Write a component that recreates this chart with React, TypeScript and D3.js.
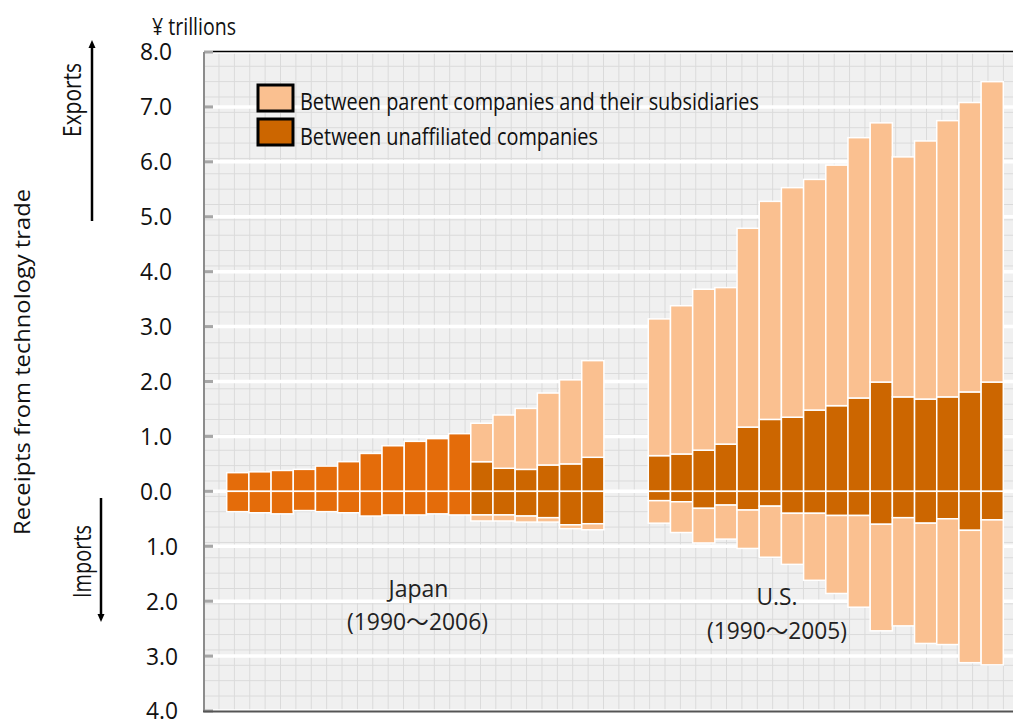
import React from "react";
import * as d3 from "d3";

// ---------- data (¥ trillions) ----------
const japanEarlyYears = [1990, 1991, 1992, 1993, 1994, 1995, 1996, 1997, 1998, 1999, 2000];
const japanEarlyExports = [0.34, 0.355, 0.38, 0.4, 0.46, 0.54, 0.69, 0.83, 0.91, 0.96, 1.05];
const japanEarlyImports = [0.37, 0.39, 0.41, 0.35, 0.37, 0.39, 0.45, 0.43, 0.43, 0.41, 0.43];

const japanLateYears = [2001, 2002, 2003, 2004, 2005, 2006];
const japanUnaffExports = [0.54, 0.42, 0.4, 0.48, 0.5, 0.62];
const japanParentExports = [0.7, 0.97, 1.11, 1.31, 1.53, 1.76];
const japanUnaffImports = [0.43, 0.43, 0.45, 0.48, 0.61, 0.59];
const japanParentImports = [0.11, 0.11, 0.11, 0.08, 0.07, 0.11];

const usYears = [1990, 1991, 1992, 1993, 1994, 1995, 1996, 1997, 1998, 1999, 2000, 2001, 2002, 2003, 2004, 2005];
const usUnaffExports = [0.65, 0.68, 0.75, 0.86, 1.17, 1.31, 1.35, 1.48, 1.56, 1.7, 1.99, 1.72, 1.68, 1.72, 1.81, 1.99];
const usParentExports = [2.49, 2.7, 2.93, 2.85, 3.62, 3.97, 4.18, 4.2, 4.38, 4.74, 4.72, 4.37, 4.7, 5.03, 5.27, 5.47];
const usUnaffImports = [0.17, 0.19, 0.31, 0.25, 0.34, 0.27, 0.4, 0.4, 0.44, 0.44, 0.6, 0.48, 0.58, 0.5, 0.71, 0.52];
const usParentImports = [0.41, 0.56, 0.63, 0.62, 0.7, 0.93, 0.93, 1.22, 1.42, 1.67, 1.94, 1.97, 2.19, 2.29, 2.41, 2.64];

const yTicks = [8, 7, 6, 5, 4, 3, 2, 1, 0, -1, -2, -3, -4];
const legendLabels = ["Between parent companies and their subsidiaries", "Between unaffiliated companies"];

const C_PARENT = "#FAC090";
const C_UNAFF = "#CC6600";
const C_TOTAL = "#E46C0A";

type Seg = { key: string; slot: string; y0: number; y1: number; color: string };

export default function App() {
  const W = 1013, H = 720;
  const panelL = 204, panelT = 52, panelB = 711;

  const slots = [
    ...japanEarlyYears.map((y) => "JP" + y),
    ...japanLateYears.map((y) => "JP" + y),
    "gap1",
    "gap2",
    ...usYears.map((y) => "US" + y),
  ];
  const x = d3.scaleBand<string>().domain(slots).range([226.7, 1003.3]).padding(0);
  const y = d3.scaleLinear().domain([-4, 8]).range([panelB, panelT]);

  const segs: Seg[] = [];
  japanEarlyYears.forEach((yr, i) => {
    const s = "JP" + yr;
    segs.push({ key: s + "e", slot: s, y0: 0, y1: japanEarlyExports[i], color: C_TOTAL });
    segs.push({ key: s + "i", slot: s, y0: 0, y1: -japanEarlyImports[i], color: C_TOTAL });
  });
  const addSplit = (prefix: string, years: number[], ue: number[], pe: number[], ui: number[], pi: number[]) => {
    years.forEach((yr, i) => {
      const s = prefix + yr;
      segs.push({ key: s + "ue", slot: s, y0: 0, y1: ue[i], color: C_UNAFF });
      segs.push({ key: s + "pe", slot: s, y0: ue[i], y1: ue[i] + pe[i], color: C_PARENT });
      segs.push({ key: s + "ui", slot: s, y0: 0, y1: -ui[i], color: C_UNAFF });
      segs.push({ key: s + "pi", slot: s, y0: -ui[i], y1: -(ui[i] + pi[i]), color: C_PARENT });
    });
  };
  addSplit("JP", japanLateYears, japanUnaffExports, japanParentExports, japanUnaffImports, japanParentImports);
  addSplit("US", usYears, usUnaffExports, usParentExports, usUnaffImports, usParentImports);

  const fmt = d3.format(".1f");
  const sans = "'Open Sans', 'Noto Sans', 'DejaVu Sans', sans-serif";
  const cjk = "'Open Sans', 'Noto Sans CJK JP', sans-serif";

  return (
    <svg width={W} height={H} style={{ position: "absolute", left: 0, top: 0, background: "#fff" }}>
      <defs>
        <pattern id="grid" patternUnits="userSpaceOnUse" x={218.5} y={173.3} width={15.38} height={15.36}>
          <path d="M0 0.5 H15.38 M0.5 0 V15.36" stroke="#DADADA" strokeWidth={1} fill="none" />
        </pattern>
        <clipPath id="panel">
          <rect x={panelL} y={panelT} width={W - panelL} height={panelB - panelT} />
        </clipPath>
      </defs>

      {/* panel background */}
      <rect x={panelL} y={panelT} width={W - panelL} height={panelB - panelT} fill="#F0F0F0" />
      <rect x={panelL} y={panelT} width={W - panelL} height={panelB - panelT} fill="url(#grid)" />

      {/* major gridlines + ticks */}
      <g clipPath="url(#panel)">
        {yTicks.map((t) => (
          <line key={"g" + t} x1={213} x2={W} y1={y(t)} y2={y(t)} stroke="#fff" strokeWidth={3.5} />
        ))}
      </g>
      {yTicks.map((t) => (
        <line key={"t" + t} x1={panelL} x2={213} y1={y(t)} y2={y(t)} stroke="#A6A6A6" strokeWidth={3} />
      ))}

      {/* bars */}
      <g>
        {segs.map((s) => (
          <rect
            key={s.key}
            x={x(s.slot)!}
            width={x.bandwidth()}
            y={y(Math.max(s.y0, s.y1))}
            height={Math.abs(y(s.y0) - y(s.y1))}
            fill={s.color}
            stroke="#fff"
            strokeWidth={1.5}
          />
        ))}
      </g>

      {/* borders */}
      <line x1={213} x2={W} y1={panelT - 0.5} y2={panelT - 0.5} stroke="#000" strokeWidth={1.5} />
      <line x1={panelL} x2={panelL} y1={panelT} y2={panelB + 1} stroke="#8C8C8C" strokeWidth={2} />
      <line x1={panelL - 1} x2={W} y1={panelB + 0.5} y2={panelB + 0.5} stroke="#555" strokeWidth={2} />

      {/* y tick labels */}
      {yTicks.map((t) => (
        <text
          key={"l" + t}
          x={t >= 0 ? 172 : 178}
          y={y(t)}
          dy="0.36em"
          textAnchor="end"
          fontFamily={sans}
          fontSize={23.5}
          textLength={32}
          lengthAdjust="spacingAndGlyphs"
          fill="#111"
        >
          {fmt(Math.abs(t))}
        </text>
      ))}

      <text x={152} y={35} fontFamily={cjk} fontSize={24} textLength={84} lengthAdjust="spacingAndGlyphs" fill="#111">
        ¥ trillions
      </text>

      {/* legend */}
      {legendLabels.map((lab, i) => (
        <g key={lab}>
          <rect
            x={258}
            y={85 + i * 34}
            width={35}
            height={26}
            fill={i === 0 ? C_PARENT : C_UNAFF}
            stroke="#000"
            strokeWidth={3}
          />
          <text
            x={300}
            y={110 + i * 35}
            fontFamily={sans}
            fontSize={24.5}
            textLength={i === 0 ? 459 : 298}
            lengthAdjust="spacingAndGlyphs"
            fill="#111"
          >
            {lab}
          </text>
        </g>
      ))}

      {/* group labels */}
      <text x={418.5} y={597} textAnchor="middle" fontFamily={sans} fontSize={24} textLength={60} lengthAdjust="spacingAndGlyphs" fill="#222">
        Japan
      </text>
      <text x={417.5} y={630} textAnchor="middle" fontFamily={cjk} fontSize={23} textLength={141} lengthAdjust="spacingAndGlyphs" fill="#222">
        (1990～2006)
      </text>
      <text x={777} y={605} textAnchor="middle" fontFamily={sans} fontSize={24} textLength={41} lengthAdjust="spacingAndGlyphs" fill="#222">
        U.S.
      </text>
      <text x={777} y={638.5} textAnchor="middle" fontFamily={cjk} fontSize={23} textLength={140} lengthAdjust="spacingAndGlyphs" fill="#222">
        (1990～2005)
      </text>

      {/* axis side titles */}
      <text
        transform="translate(30,362) rotate(-90)"
        textAnchor="middle"
        fontFamily={sans}
        fontSize={22}
        textLength={346}
        lengthAdjust="spacingAndGlyphs"
        fill="#111"
      >
        Receipts from technology trade
      </text>
      <text
        transform="translate(81,100) rotate(-90)"
        textAnchor="middle"
        fontFamily={sans}
        fontSize={25}
        textLength={74}
        lengthAdjust="spacingAndGlyphs"
        fill="#111"
      >
        Exports
      </text>
      <text
        transform="translate(91,561.5) rotate(-90)"
        textAnchor="middle"
        fontFamily={sans}
        fontSize={25}
        textLength={73}
        lengthAdjust="spacingAndGlyphs"
        fill="#111"
      >
        Imports
      </text>

      {/* arrows */}
      <line x1={92} x2={92} y1={221} y2={46} stroke="#000" strokeWidth={2.5} />
      <path d="M88.5 48 L92 40 L95.5 48 Z" fill="#000" />
      <line x1={101} x2={101} y1={498} y2={616} stroke="#000" strokeWidth={2.5} />
      <path d="M97.5 614 L101 622 L104.5 614 Z" fill="#000" />
    </svg>
  );
}
